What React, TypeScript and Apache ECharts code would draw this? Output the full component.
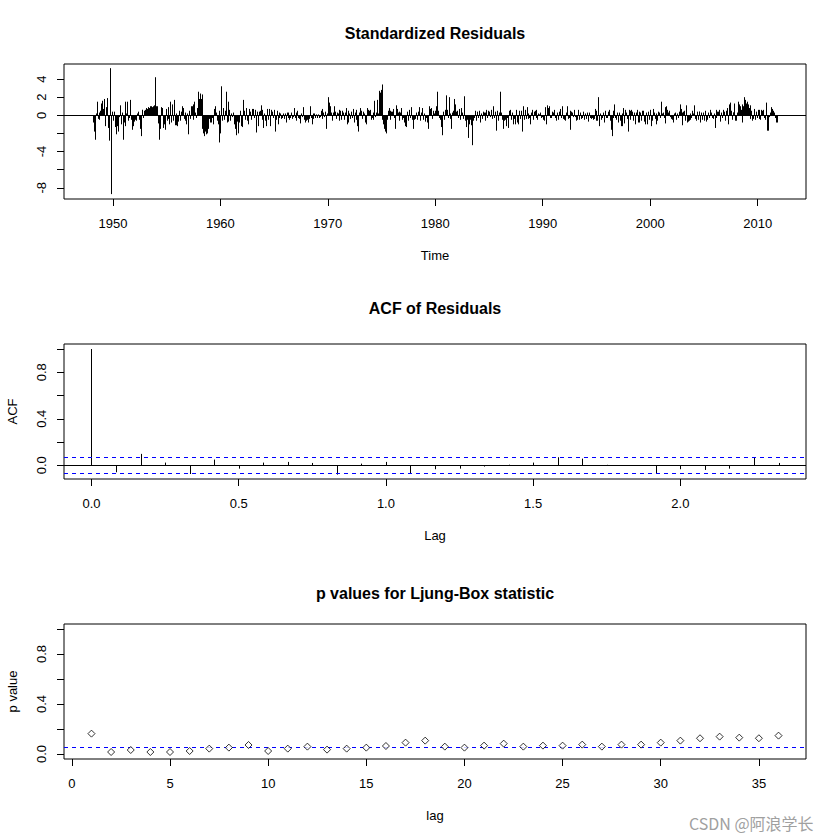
import React, { useEffect, useRef } from "react";
import * as echarts from "echarts";

// ---------- data ----------
// Standardized residuals, monthly, starting March 1948 (one row per year)
const resStart = 1948 + 2 / 12;
const stdResiduals: number[] = [
  -0.8, -1.8, -2.7, 0.2, 1.5, -0.4, -0.5, 0.3, 0.5, 1.3, // 1948 (Mar-Dec)
  1.6, 0.7, 1.8, -1.2, 0.9, 1.9, -0.8, -1.4, -2.8, 5.2, -8.7, 0.4, // 1949
  -0.6, 0.4, -1.3, -2.1, -0.8, -1.2, -1.8, -0.2, 1.1, -1.0, 0.3, -2.7, // 1950
  -0.8, 1.5, -1.2, 0.2, 1.5, -0.6, -0.3, 1.7, -0.5, -1.6, -1.2, -0.9, // 1951
  -0.7, -0.5, -0.6, 0.2, 0.4, -0.5, -1.5, -2.3, 0.6, 0.6, -0.3, 0.5, // 1952
  0.6, 0.8, 0.7, 0.9, 0.8, 1.0, 0.9, 1.0, 0.9, 1.0, 1.1, 4.2, // 1953
  1.0, 1.0, -0.9, -1.6, -2.7, -1.5, 0.9, 0.8, -1.4, -1.0, -1.6, 0.7, // 1954
  -0.6, -0.4, 0.9, -1.0, 1.5, -0.8, 1.2, -0.6, 1.7, -1.1, -1.1, 0.2, // 1955
  -1.2, -0.7, 0.5, -0.6, 0.4, 1.0, 0.8, -0.4, 0.3, -0.6, -1.0, 0.2, // 1956
  -2.1, 0.5, -0.4, 1.0, 1.0, 1.2, -0.5, 1.5, 0.3, -0.3, 0.8, 2.6, // 1957
  1.8, 2.4, 1.8, 2.3, -1.5, -2.0, -2.3, -1.8, -2.1, -2.0, -1.5, -0.4, // 1958
  -0.8, -0.5, -0.8, -0.3, -1.0, 0.7, 1.0, 0.3, -0.6, -1.0, 0.5, -3.0, // 1959
  -2.0, 3.2, -0.6, 0.8, -0.5, 0.5, 2.6, -0.8, 1.5, -0.7, 0.6, -0.6, // 1960
  0.2, -0.2, 0.3, -1.0, -1.5, -2.2, -0.3, -0.7, -2.0, -0.8, 0.5, -1.2, // 1961
  -1.3, 1.7, 0.5, -0.3, -0.5, 0.8, -0.6, -1.0, 0.7, 0.4, -0.5, 0.7, // 1962
  0.7, 0.3, -0.3, 0.6, -1.9, 0.4, -1.2, 0.4, 0.5, 1.1, 0.6, -0.5, // 1963
  -1.4, 0.2, -0.6, -1.2, 0.7, -0.5, 0.7, -0.3, -1.2, 0.6, 0.4, -0.3, // 1964
  0.6, -1.8, -0.5, 0.5, -1.0, 0.3, -0.3, 0.2, -0.4, -0.3, 0.2, -0.4, // 1965
  0.2, -0.8, 0.3, -0.3, 0.3, -0.5, -0.3, 0.3, -0.4, -0.2, 0.8, -0.3, // 1966
  0.3, -0.6, 0.5, -0.3, -0.4, -0.9, 0.2, -0.2, 0.9, -0.5, -0.8, -0.5, // 1967
  -0.6, -0.5, -0.8, -0.4, 1.0, -0.3, -1.0, -0.4, 0.2, 0.2, -0.3, 0.1, // 1968
  -0.3, 0.1, -0.3, -0.2, 0.5, 0.7, -0.4, 0.3, -0.2, 0.4, -1.5, 0.2, // 1969
  2.0, 1.4, 1.0, 0.5, 0.3, -0.6, 0.3, 1.0, 0.4, -0.4, 0.3, 0.2, // 1970
  -0.6, 0.6, 0.5, -0.5, 0.5, 0.3, -0.5, 0.3, 0.8, -1.0, 0.5, -0.8, // 1971
  0.2, -0.4, 0.4, -0.3, 0.7, -0.8, 0.3, 0.6, -0.5, -1.2, -1.8, 0.3, // 1972
  0.8, 0.5, -0.4, 0.4, 0.2, -0.4, -0.8, -1.0, 0.8, 0.6, 0.5, 0.6, // 1973
  -0.5, -0.3, -0.5, 0.3, 1.6, -0.2, 0.3, 1.7, 0.2, 2.7, 2.5, 2.8, // 1974
  3.4, -0.5, -1.0, -1.5, -1.8, -2.0, -0.5, 0.5, 0.8, 0.5, -0.5, 0.4, // 1975
  0.4, 0.7, -0.3, -1.5, 1.1, 0.7, 0.3, -0.6, 0.4, 0.3, 0.8, -0.5, // 1976
  -0.3, -0.8, -1.2, -1.3, 0.4, -0.6, -0.4, 0.6, -0.3, 0.9, -0.5, -1.5, // 1977
  -0.5, -0.4, 0.3, 0.2, -0.5, 0.4, 0.9, -0.6, 0.3, 0.8, -0.5, 0.2, // 1978
  -0.7, -0.6, -0.3, -0.8, -1.5, 1.0, 0.7, 0.8, -0.4, 0.5, 0.3, 0.2, // 1979
  0.5, 1.0, 2.6, 0.5, -0.3, -0.5, -1.3, -2.2, -0.8, 0.4, -0.5, 0.6, // 1980
  2.2, 0.6, -0.3, 2.0, 0.2, -0.4, -1.5, 0.3, 0.5, 1.8, 1.2, 0.4, // 1981
  0.5, -0.3, 0.6, 0.7, -0.5, 0.8, 0.3, -0.4, 2.1, -0.6, -1.3, -0.5, // 1982
  -2.5, -0.6, -1.0, -0.5, -1.1, -3.3, -0.6, -0.3, 0.5, -0.6, -0.4, 0.4, // 1983
  -0.3, 0.5, -0.8, 0.2, -0.4, 0.4, 0.3, -0.6, 0.3, 0.6, -0.3, 0.5, // 1984
  0.4, -0.2, 0.6, -0.4, 0.2, 1.0, -0.3, 0.4, -1.7, 0.5, -0.6, 0.3, // 1985
  2.6, 0.3, -0.5, -0.3, -1.5, -0.6, -0.5, -1.2, -0.3, -1.4, 0.5, 0.6, // 1986
  0.4, -0.5, 0.3, -1.0, -0.4, -1.0, 0.6, -0.8, -1.0, 0.3, 0.5, -0.4, // 1987
  0.5, -1.8, 1.0, -0.5, 0.6, -0.4, 0.9, -0.4, 0.2, -0.3, -1.0, 0.3, // 1988
  0.6, -0.5, 0.4, 0.5, 0.6, -0.3, -0.5, 0.2, 0.1, 0.3, -0.3, -0.2, // 1989
  -0.5, -0.6, 0.8, 0.9, -1.0, 1.1, 0.8, 1.0, -0.3, -0.3, 0.4, 0.2, // 1990
  0.3, 0.6, -0.3, -0.6, 0.3, -0.5, 0.4, 0.7, -0.3, 1.0, 0.2, -0.4, // 1991
  -0.5, -0.6, 0.3, 1.0, -0.4, -0.3, 0.5, -1.6, 0.4, 0.3, -0.2, 0.6, // 1992
  -0.2, -0.6, -0.5, 0.6, -0.3, -0.5, 0.3, -0.4, -0.3, 0.4, -0.5, 0.2, // 1993
  -0.4, 0.3, -0.7, -0.6, 0.3, -0.3, -0.4, -0.3, -0.5, -0.4, 0.7, -0.6, // 1994
  0.5, -0.6, 2.0, -1.2, 0.2, -0.5, -0.3, 0.3, -0.8, 0.4, 0.5, -0.3, // 1995
  -0.3, 0.4, 0.6, -0.6, -1.6, -2.3, -0.3, 0.5, 1.2, -0.3, -0.5, 0.3, // 1996
  -0.8, 0.3, -0.6, -1.2, 0.2, -1.2, 0.8, -0.9, 0.6, 0.3, -0.4, -1.8, // 1997
  0.6, -0.5, 0.5, 0.6, 0.4, -0.6, 0.3, -1.0, 0.3, 0.6, -0.8, 0.4, // 1998
  -0.8, 0.3, -0.6, 0.5, 0.5, -0.7, -1.0, 0.3, -1.0, -0.8, 0.4, -0.5, // 1999
  0.6, -1.2, -0.6, 0.7, 0.3, -0.4, 0.2, -1.0, -0.6, 0.4, 0.3, -0.3, // 2000
  1.5, 0.2, 0.3, -0.3, -0.9, 0.9, 1.0, 0.6, 0.3, 0.5, -0.2, -0.4, // 2001
  -0.5, -0.7, -0.8, 0.2, 0.3, -0.5, 0.2, -0.3, 0.4, 1.2, 0.7, 0.3, // 2002
  -1.1, 0.4, 0.5, -0.6, 1.1, -0.8, -0.7, -0.6, -0.5, 0.2, -0.3, 0.5, // 2003
  0.2, 1.1, -0.4, -0.6, 0.4, -0.5, 0.4, 0.4, -0.8, 0.3, -0.5, 0.3, // 2004
  -0.6, 0.5, -0.7, -0.4, -0.5, 0.3, -0.3, 0.6, 0.3, -0.3, -0.4, 0.2, // 2005
  -1.4, 0.6, -0.3, 0.4, 0.4, 0.6, -0.7, 0.3, -0.3, 0.6, 0.4, -0.5, // 2006
  -0.6, 0.5, 0.8, -1.0, 1.2, 1.4, 0.5, -0.5, 0.3, 0.3, 1.3, -0.6, // 2007
  -0.6, 0.3, 1.5, 1.2, 1.0, 0.6, -0.8, 1.2, 1.0, 2.0, 1.7, 1.3, // 2008
  1.5, 1.2, 0.8, -0.4, 1.1, 0.5, -0.6, -0.4, 0.7, -0.5, 0.4, -0.3, // 2009
  0.6, -0.4, 0.6, -0.5, 0.6, 0.5, 0.6, -0.3, -0.5, 1.4, -0.3, -1.7, // 2010
  -1.7, -0.2, 0.3, 0.9, 0.7, 0.5, 0.3, -0.3, -0.8, -0.7, -0.8, // 2011 (Jan-Nov)
];

// ACF of residuals at lags 0..28 (months), shown in years
const acfFrequency = 12;
const acfValues: number[] = [
  1.0, -0.06, 0.098, 0.023, -0.075, 0.049, -0.029, 0.023, 0.029, 0.02,
  -0.08, 0.014, 0.029, -0.069, -0.034, -0.029, -0.011, 0.005, 0.023, 0.069,
  0.057, 0.004, -0.004, -0.069, -0.034, -0.04, -0.029, 0.069, 0.02,
];
const acfCI = 0.071;

// Ljung-Box p-values, lags 1..36
const lbLags: number[] = [
  1, 2, 3, 4, 5, 6, 7, 8, 9, 10, 11, 12, 13, 14, 15, 16, 17, 18,
  19, 20, 21, 22, 23, 24, 25, 26, 27, 28, 29, 30, 31, 32, 33, 34, 35, 36,
];
const lbPValues: number[] = [
  0.163, 0.016, 0.032, 0.016, 0.016, 0.024, 0.043, 0.051, 0.072, 0.024,
  0.043, 0.059, 0.035, 0.043, 0.051, 0.064, 0.091, 0.107, 0.059, 0.051,
  0.067, 0.083, 0.059, 0.067, 0.067, 0.075, 0.059, 0.075, 0.075, 0.091,
  0.107, 0.126, 0.139, 0.131, 0.126, 0.147,
];
const lbLevel = 0.05;

// ticks and labels
const resXTicks = [1950, 1960, 1970, 1980, 1990, 2000, 2010];
const resYTicks = [-8, -6, -4, -2, 0, 2, 4];
const resYLabels = [-8, -4, 0, 2, 4];
const acfXTicks = [0, 0.5, 1, 1.5, 2];
const unitYTicks = [0, 0.2, 0.4, 0.6, 0.8, 1.0];
const unitYLabels = [0, 0.4, 0.8];
const lbXTicks = [0, 5, 10, 15, 20, 25, 30, 35];

// axis ranges (R's 4% padding)
const resXRange = [1945.45, 2014.5];
const resYRange = [-9.24, 5.66];
const acfXRange = [-0.0933, 2.4267];
const acfYRange = [-0.118, 1.043];
const lbXRange = [-0.4, 37.4];
const lbYRange = [-0.04, 1.04];

const FONT = "'Liberation Sans', Arial, Helvetica, sans-serif";
const BLUE = "#0000ff";

function valueAxis(
  gridIndex: number,
  range: number[],
  ticks: number[],
  labels: number[],
  fmt: (v: number) => string,
  isY: boolean
) {
  return {
    type: "value",
    gridIndex,
    min: range[0],
    max: range[1],
    axisLine: { show: false, onZero: false },
    splitLine: { show: false },
    axisTick: {
      show: true,
      inside: false,
      length: 7,
      customValues: ticks,
      lineStyle: { color: "#000", width: 1 },
    },
    axisLabel: {
      show: true,
      customValues: labels,
      formatter: (v: number) => fmt(v),
      rotate: isY ? 90 : 0,
      margin: isY ? 16 : 18,
      color: "#000",
      fontSize: 13,
      fontFamily: FONT,
    },
  };
}

// vertical "h"-type line from 0 to the value
function hLine(params: any, api: any) {
  const x = api.value(0);
  const y = api.value(1);
  const p0 = api.coord([x, 0]);
  const p1 = api.coord([x, y]);
  const px = Math.round(p0[0]) + 0.5;
  return {
    type: "line",
    shape: { x1: px, y1: p0[1], x2: px, y2: p1[1] },
    style: { stroke: "#000", lineWidth: 1 },
  };
}

// horizontal reference line across the whole plot box
function refLine(color: string, dashed: boolean) {
  return (params: any, api: any) => {
    const cs = params.coordSys;
    const p = api.coord([api.value(0), api.value(1)]);
    const py = Math.round(p[1] - 0.5) + 0.5;
    return {
      type: "line",
      shape: { x1: cs.x, y1: py, x2: cs.x + cs.width, y2: py },
      style: {
        stroke: color,
        fill: null,
        lineWidth: 1,
        lineDash: dashed ? [4, 4] : null,
      },
    };
  };
}

function refSeries(axis: number, xStart: number, values: number[], color: string, dashed: boolean) {
  return {
    type: "custom",
    xAxisIndex: axis,
    yAxisIndex: axis,
    renderItem: refLine(color, dashed),
    encode: { x: 0, y: 1 },
    data: values.map((v) => [xStart, v]),
    clip: false,
    silent: true,
  };
}

function text(
  t: string,
  x: number,
  y: number,
  size: number,
  bold = false,
  rotate = 0,
  color = "#000",
  align = "center",
  family = FONT
) {
  return {
    type: "text",
    x,
    y,
    rotation: rotate,
    style: {
      text: t,
      fill: color,
      font: `${bold ? "bold " : ""}${size}px ${family}`,
      align,
      verticalAlign: "middle",
    },
  };
}

export default function App() {
  const ref = useRef<HTMLDivElement>(null);

  useEffect(() => {
    if (!ref.current) return;
    const chart = echarts.init(ref.current, undefined, { renderer: "svg" });

    const resData = stdResiduals.map((v, i) => [resStart + i / 12, v]);
    const acfData = acfValues.map((v, k) => [k / acfFrequency, v]);
    const lbData = lbPValues.map((v, i) => [lbLags[i], v]);

    const f0 = (v: number) => String(Math.round(v));
    const f1 = (v: number) => v.toFixed(1);

    const option: any = {
      animation: false,
      backgroundColor: "#fff",
      textStyle: { fontFamily: FONT },
      grid: [
        { left: 64, top: 64, width: 742, height: 135, show: true, borderColor: "#000", borderWidth: 1, backgroundColor: "transparent" },
        { left: 64, top: 344, width: 742, height: 135, show: true, borderColor: "#000", borderWidth: 1, backgroundColor: "transparent" },
        { left: 64, top: 624, width: 742, height: 135, show: true, borderColor: "#000", borderWidth: 1, backgroundColor: "transparent" },
      ],
      xAxis: [
        valueAxis(0, resXRange, resXTicks, resXTicks, f0, false),
        valueAxis(1, acfXRange, acfXTicks, acfXTicks, f1, false),
        valueAxis(2, lbXRange, lbXTicks, lbXTicks, f0, false),
      ],
      yAxis: [
        valueAxis(0, resYRange, resYTicks, resYLabels, f0, true),
        valueAxis(1, acfYRange, unitYTicks, unitYLabels, f1, true),
        valueAxis(2, lbYRange, unitYTicks, unitYLabels, f1, true),
      ],
      series: [
        {
          type: "custom",
          xAxisIndex: 0,
          yAxisIndex: 0,
          renderItem: hLine,
          encode: { x: 0, y: 1 },
          data: resData,
          clip: true,
        },
        refSeries(0, resXRange[0], [0], "#000", false),
        {
          type: "custom",
          xAxisIndex: 1,
          yAxisIndex: 1,
          renderItem: hLine,
          encode: { x: 0, y: 1 },
          data: acfData,
          clip: true,
        },
        refSeries(1, acfXRange[0], [0], "#000", false),
        refSeries(1, acfXRange[0], [acfCI, -acfCI], BLUE, true),
        refSeries(2, lbXRange[0], [lbLevel], BLUE, true),
        {
          type: "scatter",
          xAxisIndex: 2,
          yAxisIndex: 2,
          data: lbData,
          symbol: "diamond",
          symbolSize: [7, 7],
          itemStyle: { color: "#fff", borderColor: "#000", borderWidth: 1 },
        },
      ],
      graphic: [
        text("Standardized Residuals", 435, 33, 16, true),
        text("ACF of Residuals", 435, 308, 16, true),
        text("p values for Ljung-Box statistic", 435, 593, 16, true),
        text("Time", 435, 255, 13),
        text("Lag", 435, 535, 13),
        text("lag", 435, 815, 13),
        text("ACF", 12, 411.5, 13, false, Math.PI / 2),
        text("p value", 12, 691.5, 13, false, Math.PI / 2),
        text("CSDN @阿浪学长", 689, 822.5, 16, false, 0, "#a0a0a0", "left", "'Noto Sans CJK SC', 'Noto Sans', sans-serif"),
      ],
    };

    chart.setOption(option);
    return () => chart.dispose();
  }, []);

  return (
    <div
      ref={ref}
      style={{ position: "absolute", left: 0, top: 0, width: 840, height: 840, background: "#fff" }}
    />
  );
}
